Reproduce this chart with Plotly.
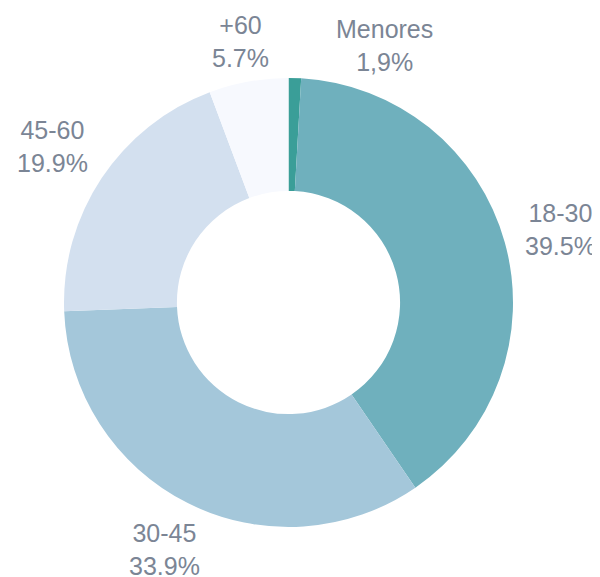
import plotly.graph_objects as go

labels = ["Menores", "18-30", "30-45", "45-60", "+60"]
# slice sizes as drawn in the reference (the Menores slice is drawn ~0.9%)
values = [0.9, 39.5, 33.9, 19.9, 5.7]
value_text = ["1,9%", "39.5%", "33.9%", "19.9%", "5.7%"]
colors = ["#3a9e98", "#6fb0bd", "#a4c7da", "#d3e0ef", "#f7f9fe"]

W, H = 600, 577
OFF = 8  # page body margin offset

# label anchor positions (screen px)
label_pos = [(384, 45), (560, 229), (164, 549), (52, 147), (241, 42)]

cx, cy, r = 288.5 - OFF, 302.5 - OFF, 224.5

fig = go.Figure(go.Pie(
    labels=labels,
    values=values,
    hole=0.497,
    sort=False,
    direction="clockwise",
    rotation=0,
    marker=dict(colors=colors, line=dict(width=0)),
    textinfo="none",
    hoverinfo="label+percent",
    domain=dict(x=[(cx - r) / W, (cx + r) / W],
                y=[(H - cy - r) / H, (H - cy + r) / H]),
    showlegend=False,
))

for lab, vt, (px, py) in zip(labels, value_text, label_pos):
    fig.add_annotation(
        x=(px - OFF) / W, y=1 - (py - OFF) / H, xref="paper", yref="paper",
        text=f"{lab}<br>{vt}", showarrow=False,
        font=dict(family="Liberation Sans, Arial, sans-serif", size=25, color="#7b8595"),
        align="center", xanchor="center", yanchor="middle",
    )

fig.update_layout(
    width=W, height=H,
    margin=dict(l=0, r=0, t=0, b=0),
    paper_bgcolor="white", plot_bgcolor="white",
)

fig.write_html("out.html")
